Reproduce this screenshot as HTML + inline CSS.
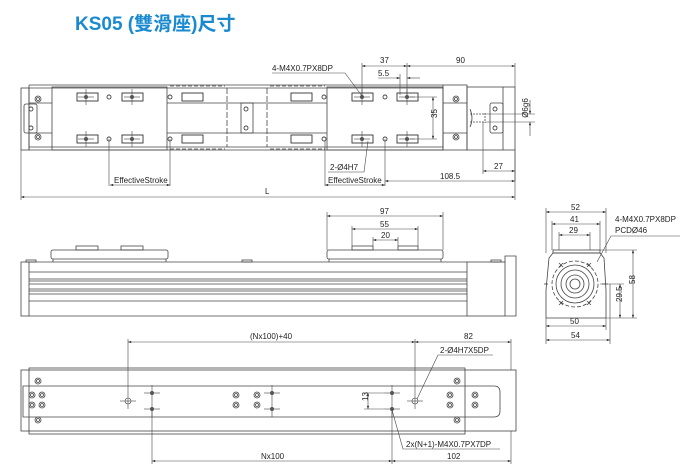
<!DOCTYPE html>
<html><head><meta charset="utf-8"><style>
html,body{margin:0;padding:0;background:#fff;}
svg{display:block;}
text{font-family:"Liberation Sans",sans-serif;font-size:8px;fill:#222;}
.t{font-family:"Liberation Sans","Noto Sans CJK TC",sans-serif;font-size:19px;font-weight:bold;fill:#1a8ad0;}
</style></head><body>
<svg width="700" height="475" viewBox="0 0 700 475" xmlns="http://www.w3.org/2000/svg">
<defs>
<marker id="a" viewBox="0 0 8 6" refX="8" refY="3" markerWidth="6" markerHeight="4" orient="auto-start-reverse"><path d="M0,0L8,3L0,6z" fill="#333"/></marker>
<g id="dh"><circle r="3" fill="none" stroke="#444" stroke-width="0.8"/><circle r="1.5" fill="none" stroke="#444" stroke-width="0.8"/></g>
<g id="sh"><circle r="2" fill="none" stroke="#444" stroke-width="0.9"/></g>
<g id="ch"><line x1="-8" y1="0" x2="8" y2="0" stroke="#444" stroke-width="0.6"/><line x1="0" y1="-8" x2="0" y2="8" stroke="#444" stroke-width="0.6"/><circle r="2" fill="#555"/></g>
<g id="slot"><rect x="-10" y="-4" width="21" height="8" fill="none" stroke="#333" stroke-width="0.9"/></g>
</defs>
<text x="75" y="30" class="t">KS05 (雙滑座)尺寸</text>
<g fill="none" stroke="#444" stroke-width="0.8">
<!-- TOP VIEW -->
<rect x="21" y="88" width="8" height="62"/>
<line x1="29" y1="85" x2="443" y2="85"/><line x1="29" y1="150" x2="443" y2="150"/>
<line x1="29" y1="88" x2="443" y2="88"/><line x1="29" y1="147" x2="443" y2="147"/>
<line x1="29" y1="85" x2="29" y2="150"/>
<line x1="29" y1="103" x2="52" y2="103"/><line x1="29" y1="133" x2="52" y2="133"/>
<rect x="24" y="104" width="13" height="29" rx="2"/>
<rect x="52" y="87" width="115" height="63"/>
<rect x="327" y="87" width="116" height="63"/>
<line x1="167" y1="103" x2="327" y2="103"/><line x1="167" y1="133" x2="327" y2="133"/>
<line x1="227" y1="88" x2="227" y2="147" stroke-dasharray="6,2"/>
<line x1="267" y1="88" x2="267" y2="147" stroke-dasharray="6,2"/>
<line x1="170" y1="86" x2="225" y2="86" stroke-dasharray="4,2"/><line x1="270" y1="86" x2="325" y2="86" stroke-dasharray="4,2"/>
<line x1="170" y1="149" x2="225" y2="149" stroke-dasharray="4,2"/><line x1="270" y1="149" x2="325" y2="149" stroke-dasharray="4,2"/>
<rect x="241" y="103" width="12" height="30"/>
<rect x="443" y="85" width="24" height="65"/>
<rect x="467" y="87" width="48" height="63"/><line x1="503" y1="87" x2="503" y2="150"/>
<line x1="443" y1="103" x2="467" y2="103"/><line x1="443" y1="133" x2="467" y2="133"/>
<rect x="490" y="103" width="13" height="30" rx="2"/>
<path d="M470,109 q4,9 0,18" /><line x1="470" y1="114" x2="485" y2="114" stroke-dasharray="2,1"/><line x1="470" y1="122" x2="485" y2="122" stroke-dasharray="2,1"/><line x1="485" y1="113" x2="485" y2="123" stroke-dasharray="2,1"/>
</g>
<g>
<use href="#dh" x="38" y="99"/><use href="#dh" x="38" y="137"/>
<use href="#sh" x="31" y="109"/><use href="#sh" x="31" y="128"/>
<use href="#sh" x="246" y="109"/><use href="#sh" x="246" y="128"/>
<use href="#dh" x="456" y="99"/><use href="#dh" x="456" y="137"/>
<use href="#sh" x="495" y="109"/><use href="#sh" x="495" y="128"/>
<use href="#slot" x="87" y="97"/><use href="#slot" x="132" y="97"/><use href="#slot" x="87" y="139"/><use href="#slot" x="132" y="139"/>
<use href="#slot" x="362" y="97"/><use href="#slot" x="407" y="97"/><use href="#slot" x="362" y="139"/><use href="#slot" x="407" y="139"/>
<use href="#slot" x="192" y="97"/><use href="#slot" x="301" y="97"/><use href="#slot" x="192" y="139"/><use href="#slot" x="301" y="139"/>
<use href="#sh" x="109" y="97"/><use href="#sh" x="109" y="139"/><use href="#sh" x="385" y="97"/><use href="#sh" x="385" y="139"/>
<use href="#sh" x="170" y="97"/><use href="#sh" x="170" y="139"/><use href="#sh" x="324" y="97"/><use href="#sh" x="324" y="139"/>
<use href="#ch" x="86" y="97"/><use href="#ch" x="132" y="97"/><use href="#ch" x="86" y="139"/><use href="#ch" x="132" y="139"/>
<use href="#ch" x="362" y="97"/><use href="#ch" x="407" y="97"/><use href="#ch" x="362" y="139"/><use href="#ch" x="407" y="139"/>
</g>
<g fill="none" stroke="#444" stroke-width="0.6">
<line x1="21" y1="150" x2="21" y2="200"/><line x1="515" y1="150" x2="515" y2="200"/>
<line x1="21" y1="197" x2="515" y2="197" marker-start="url(#a)" marker-end="url(#a)"/>
<line x1="109" y1="139" x2="109" y2="186"/><line x1="170" y1="139" x2="170" y2="186"/>
<line x1="110" y1="185" x2="170" y2="185" marker-start="url(#a)" marker-end="url(#a)"/>
<line x1="325" y1="140" x2="325" y2="186"/><line x1="385" y1="139" x2="385" y2="186"/>
<line x1="325" y1="185" x2="385" y2="185" marker-start="url(#a)" marker-end="url(#a)"/>
<line x1="385" y1="181" x2="515" y2="181" marker-start="url(#a)" marker-end="url(#a)"/>
<line x1="483" y1="122" x2="483" y2="174"/><line x1="515" y1="150" x2="515" y2="181"/>
<line x1="483" y1="171" x2="515" y2="171" marker-start="url(#a)" marker-end="url(#a)"/>
<line x1="362" y1="63" x2="362" y2="95"/><line x1="407" y1="63" x2="407" y2="95"/><line x1="400" y1="74" x2="400" y2="95"/><line x1="515" y1="63" x2="515" y2="87"/>
<line x1="362" y1="66" x2="407" y2="66" marker-start="url(#a)" marker-end="url(#a)"/>
<line x1="407" y1="66" x2="515" y2="66" marker-start="url(#a)" marker-end="url(#a)"/>
<line x1="378" y1="78" x2="400" y2="78" marker-end="url(#a)"/><line x1="420" y1="78" x2="407" y2="78" marker-end="url(#a)"/>
<line x1="410" y1="97" x2="437" y2="97"/><line x1="410" y1="139" x2="437" y2="139"/>
<line x1="433" y1="97" x2="433" y2="139" marker-start="url(#a)" marker-end="url(#a)"/>
<line x1="485" y1="114" x2="535" y2="114"/><line x1="485" y1="122" x2="535" y2="122"/>
<line x1="530" y1="100" x2="530" y2="114" marker-end="url(#a)"/><line x1="530" y1="136" x2="530" y2="122" marker-end="url(#a)"/>
<polyline points="272,73 345,73 362,96"/>
<polyline points="328,172 364,172 368,141"/>
</g>
<text x="272" y="71">4-M4X0.7PX8DP</text>
<text x="380" y="63">37</text><text x="456" y="63">90</text><text x="378" y="76">5.5</text>
<text x="431" y="124" transform="rotate(-90 431 118)" >35</text>
<text x="528" y="108" transform="rotate(-90 528 108)" text-anchor="middle">Ø6g6</text>
<text x="494" y="169">27</text><text x="440" y="179">108.5</text>
<text x="114" y="183">EffectiveStroke</text><text x="328" y="183">EffectiveStroke</text>
<text x="330" y="170">2-Ø4H7</text>
<text x="265" y="194">L</text>
<!-- SIDE VIEW -->
<g fill="none" stroke="#444" stroke-width="0.8">
<rect x="21" y="262" width="8" height="54"/>
<line x1="29" y1="262" x2="467" y2="262"/><line x1="29" y1="316" x2="467" y2="316"/>
<line x1="29" y1="272" x2="467" y2="272"/><line x1="29" y1="279" x2="467" y2="279"/><line x1="29" y1="281" x2="467" y2="281"/>
<line x1="29" y1="284" x2="467" y2="284"/><line x1="29" y1="289" x2="467" y2="289"/><line x1="29" y1="291" x2="467" y2="291"/>
<line x1="29" y1="294" x2="467" y2="294"/><line x1="29" y1="301" x2="467" y2="301"/>
<rect x="467" y="262" width="38" height="54"/><polyline points="505,262 505,256 516,256 516,316 505,316"/>
<rect x="51" y="250" width="117" height="9" rx="2"/><line x1="53" y1="259" x2="53" y2="262"/><line x1="166" y1="259" x2="166" y2="262"/>
<rect x="76" y="246" width="22" height="4"/><rect x="121" y="246" width="22" height="4"/>
<rect x="327" y="250" width="116" height="9" rx="2"/><line x1="329" y1="259" x2="329" y2="262"/><line x1="441" y1="259" x2="441" y2="262"/>
<rect x="352" y="246" width="21" height="4"/><rect x="398" y="246" width="20" height="4"/>
<rect x="26" y="260" width="10" height="2"/><rect x="242" y="260" width="10" height="2"/><rect x="491" y="260" width="10" height="2"/>
</g>
<g fill="none" stroke="#444" stroke-width="0.6">
<line x1="327" y1="212" x2="327" y2="250"/><line x1="443" y1="212" x2="443" y2="250"/>
<line x1="327" y1="216" x2="443" y2="216" marker-start="url(#a)" marker-end="url(#a)"/>
<line x1="352" y1="226" x2="352" y2="246"/><line x1="418" y1="226" x2="418" y2="246"/>
<line x1="352" y1="229" x2="418" y2="229" marker-start="url(#a)" marker-end="url(#a)"/>
<line x1="373" y1="237" x2="373" y2="246"/><line x1="398" y1="237" x2="398" y2="246"/>
<line x1="373" y1="240" x2="398" y2="240" marker-start="url(#a)" marker-end="url(#a)"/>
</g>
<text x="380" y="214">97</text><text x="380" y="227">55</text><text x="381" y="238">20</text>
<!-- END VIEW -->
<g fill="none" stroke="#444" stroke-width="0.8">
<path d="M549,258 L553,253 L600,253 L604,258 L606,290 L606,318 L546,318 L546,290 Z"/>
<rect x="553" y="250" width="47" height="3"/>
<circle cx="575" cy="284" r="23" stroke-dasharray="4,2"/>
<circle cx="575" cy="284" r="19"/><circle cx="575" cy="284" r="14"/><circle cx="575" cy="284" r="9"/><circle cx="575" cy="284" r="5"/>
<line x1="544" y1="284" x2="548" y2="284"/><line x1="602" y1="284" x2="608" y2="284"/>
<line x1="559" y1="263" x2="563" y2="267"/><line x1="563" y1="263" x2="559" y2="267"/>
<line x1="587" y1="263" x2="591" y2="267"/><line x1="591" y1="263" x2="587" y2="267"/>
<line x1="559" y1="301" x2="563" y2="305"/><line x1="563" y1="301" x2="559" y2="305"/>
<line x1="587" y1="301" x2="591" y2="305"/><line x1="591" y1="301" x2="587" y2="305"/>
</g>
<g fill="none" stroke="#444" stroke-width="0.6">
<line x1="546" y1="208" x2="546" y2="253"/><line x1="606" y1="208" x2="606" y2="253"/>
<line x1="546" y1="212" x2="606" y2="212" marker-start="url(#a)" marker-end="url(#a)"/>
<line x1="552" y1="221" x2="552" y2="250"/><line x1="600" y1="221" x2="600" y2="250"/>
<line x1="552" y1="224" x2="600" y2="224" marker-start="url(#a)" marker-end="url(#a)"/>
<line x1="559" y1="232" x2="559" y2="250"/><line x1="590" y1="232" x2="590" y2="250"/>
<line x1="559" y1="235" x2="590" y2="235" marker-start="url(#a)" marker-end="url(#a)"/>
<polyline points="680,236 611,236 597,262"/>
<line x1="600" y1="250" x2="637" y2="250"/><line x1="606" y1="318" x2="637" y2="318"/><line x1="600" y1="284" x2="624" y2="284"/>
<line x1="633" y1="250" x2="633" y2="318" marker-start="url(#a)" marker-end="url(#a)"/>
<line x1="620" y1="284" x2="620" y2="318" marker-start="url(#a)" marker-end="url(#a)"/>
<line x1="546" y1="318" x2="546" y2="344"/><line x1="606" y1="318" x2="606" y2="330"/><line x1="610" y1="284" x2="610" y2="344"/>
<line x1="546" y1="326" x2="606" y2="326" marker-start="url(#a)" marker-end="url(#a)"/>
<line x1="546" y1="340" x2="610" y2="340" marker-start="url(#a)" marker-end="url(#a)"/>
</g>
<text x="571" y="210">52</text><text x="570" y="222">41</text><text x="569" y="233">29</text>
<text x="615" y="222">4-M4X0.7PX8DP</text><text x="615" y="233">PCDØ46</text>
<text x="631" y="288" transform="rotate(-90 631 284)">58</text>
<text x="618" y="306" transform="rotate(-90 618 302)">29.5</text>
<text x="570" y="324">50</text><text x="571" y="338">54</text>
<!-- BOTTOM VIEW -->
<g fill="none" stroke="#444" stroke-width="0.8">
<rect x="21" y="370" width="495" height="61"/>
<rect x="29" y="368" width="436" height="66"/>
<path d="M23,386 L494,386 Q500,386 500,392 L500,411 Q500,417 494,417 L23,417 Z"/>
</g>
<g>
<use href="#dh" x="38" y="381"/><use href="#dh" x="38" y="420"/>
<use href="#dh" x="32" y="395"/><use href="#dh" x="42" y="395"/><use href="#dh" x="32" y="405"/><use href="#dh" x="42" y="405"/>
<use href="#dh" x="236" y="395"/><use href="#dh" x="236" y="405"/><use href="#dh" x="257" y="395"/><use href="#dh" x="257" y="405"/>
<use href="#dh" x="450" y="395"/><use href="#dh" x="450" y="405"/><use href="#dh" x="475" y="395"/><use href="#dh" x="475" y="405"/>
<use href="#dh" x="457" y="381"/><use href="#dh" x="457" y="420"/>
<use href="#ch" x="152" y="393"/><use href="#ch" x="152" y="409"/><use href="#ch" x="272" y="393"/><use href="#ch" x="272" y="409"/>
<use href="#ch" x="392" y="393"/><use href="#ch" x="392" y="409"/>
</g>
<g fill="none" stroke="#444" stroke-width="0.6">
<circle cx="128" cy="401" r="3"/><line x1="120" y1="401" x2="136" y2="401"/><line x1="128" y1="339" x2="128" y2="409"/>
<circle cx="415" cy="401" r="3"/><line x1="407" y1="401" x2="423" y2="401"/><line x1="415" y1="339" x2="415" y2="409"/>
<line x1="511" y1="339" x2="511" y2="370"/>
<line x1="128" y1="342" x2="415" y2="342" marker-start="url(#a)" marker-end="url(#a)"/>
<line x1="415" y1="342" x2="511" y2="342" marker-start="url(#a)" marker-end="url(#a)"/>
<polyline points="493,355 438,355 417,399"/>
<line x1="152" y1="409" x2="152" y2="464"/><line x1="392" y1="409" x2="392" y2="464"/><line x1="511" y1="431" x2="511" y2="464"/>
<line x1="152" y1="461" x2="392" y2="461" marker-start="url(#a)" marker-end="url(#a)"/>
<line x1="392" y1="461" x2="511" y2="461" marker-start="url(#a)" marker-end="url(#a)"/>
<line x1="364" y1="393" x2="384" y2="393"/><line x1="364" y1="409" x2="384" y2="409"/>
<line x1="368" y1="393" x2="368" y2="409" marker-start="url(#a)" marker-end="url(#a)"/>
<polyline points="392,410 403,449 500,449"/>
</g>
<text x="250" y="339">(Nx100)+40</text><text x="464" y="339">82</text>
<text x="440" y="353">2-Ø4H7X5DP</text>
<text x="364" y="405" transform="rotate(-90 364 401)">13</text>
<text x="406" y="447">2x(N+1)-M4X0.7PX7DP</text>
<text x="261" y="459">Nx100</text><text x="447" y="459">102</text>
</svg>
</body></html>
